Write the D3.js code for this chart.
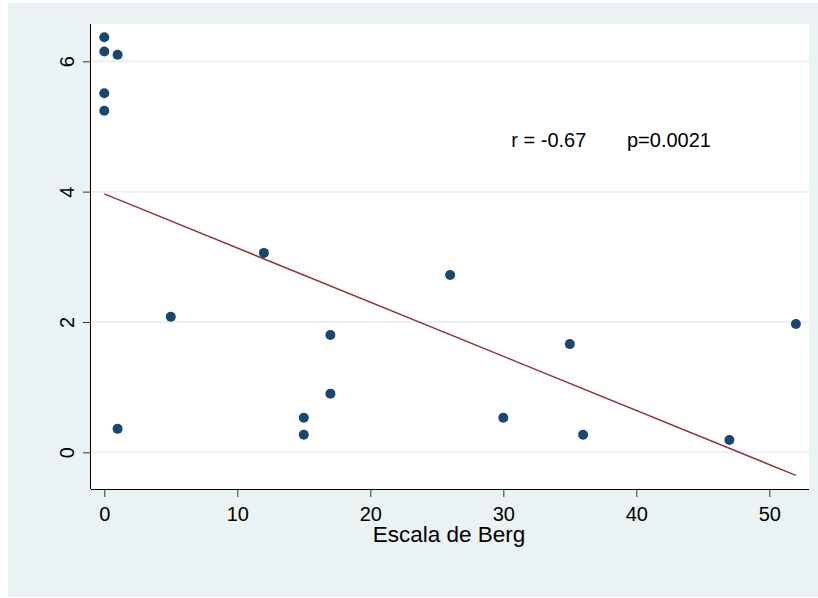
<!DOCTYPE html>
<html>
<head>
<meta charset="utf-8">
<script src="https://cdn.jsdelivr.net/npm/d3@7"></script>
<style>
  body { margin: 0; background: #fff; }
  svg { display: block; }
  text { font-family: "Liberation Sans", Arial, sans-serif; }
</style>
</head>
<body>
<div id="chart"></div>
<script>
var berg = [0, 0, 1, 0, 0, 5, 12, 26, 17, 17, 15, 15, 1, 30, 35, 36, 47, 52];
var score = [6.37, 6.15, 6.10, 5.51, 5.24, 2.08, 3.06, 2.72, 1.80, 0.90, 0.53, 0.27, 0.36, 0.53, 1.66, 0.27, 0.19, 1.97];
var xTicks = [0, 10, 20, 30, 40, 50];
var yTicks = [0, 2, 4, 6];

function init() {
    var w = 818;
    var h = 598;

    var left = 91, right = 809, top = 24, bottom = 489;

    // scales fitted to the picture's tick positions
    var x = d3.scaleLinear().domain([0, 50]).range([104.3, 769.3]);
    var y = d3.scaleLinear().domain([0, 6]).range([452.3, 61.3]);

    var svg = d3.select("#chart")
                .append("svg")
                .attr("width", w)
                .attr("height", h);

    svg.append("rect")
        .attr("x", 8).attr("y", 3)
        .attr("width", w - 8).attr("height", 594)
        .attr("fill", "#eaf2f3");

    svg.append("rect")
        .attr("x", left).attr("y", top)
        .attr("width", right - left).attr("height", bottom - top)
        .attr("fill", "#fff");

    // gridlines
    svg.append("g")
        .selectAll("line")
        .data(yTicks)
        .enter()
        .append("line")
        .attr("x1", left).attr("x2", right)
        .attr("y1", function(d) { return y(d); })
        .attr("y2", function(d) { return y(d); })
        .attr("stroke", "#eaf2f3")
        .attr("stroke-width", 2);

    // fit line (least squares)
    var mx = d3.mean(berg), my = d3.mean(score);
    var sxy = d3.sum(berg, function(d, i) { return (d - mx) * (score[i] - my); });
    var sxx = d3.sum(berg, function(d) { return (d - mx) * (d - mx); });
    var slope = sxy / sxx;
    var icpt = my - slope * mx;
    var xr = d3.extent(berg);

    svg.append("line")
        .attr("x1", x(xr[0])).attr("y1", y(icpt + slope * xr[0]))
        .attr("x2", x(xr[1])).attr("y2", y(icpt + slope * xr[1]))
        .attr("stroke", "#90353b")
        .attr("stroke-width", 1.5);

    // points
    svg.append("g")
        .selectAll("circle")
        .data(berg)
        .enter()
        .append("circle")
        .attr("cx", function(d) { return x(d); })
        .attr("cy", function(d, i) { return y(score[i]); })
        .attr("r", 5)
        .attr("fill", "#1a476f");

    // axes
    var xAxis = svg.append("g")
        .attr("transform", "translate(0," + bottom + ")")
        .call(d3.axisBottom(x).tickValues(xTicks).tickFormat(d3.format("d")).tickSize(8));
    xAxis.select(".domain").attr("d", "M" + left + ",0.5H" + right).attr("stroke", "#000");
    xAxis.selectAll(".tick line").attr("stroke", "#333");
    xAxis.selectAll(".tick text")
        .attr("font-size", 20)
        .attr("font-family", "Liberation Sans, Arial, sans-serif")
        .attr("fill", "#000")
        .attr("y", 32)
        .attr("dy", null);

    var yAxis = svg.append("g")
        .attr("transform", "translate(" + left + ",0)")
        .call(d3.axisLeft(y).tickValues(yTicks).tickFormat(d3.format("d")).tickSize(8));
    yAxis.select(".domain").attr("d", "M-0.5," + top + "V" + bottom).attr("stroke", "#000");
    yAxis.selectAll(".tick line").attr("stroke", "#333");
    yAxis.selectAll(".tick text")
        .attr("font-size", 20)
        .attr("font-family", "Liberation Sans, Arial, sans-serif")
        .attr("fill", "#000")
        .attr("text-anchor", "middle")
        .attr("x", null)
        .attr("dy", null)
        .attr("transform", "translate(-17,0) rotate(-90)");

    svg.append("text")
        .attr("x", 449).attr("y", 542)
        .attr("text-anchor", "middle")
        .attr("font-size", 22.5)
        .text("Escala de Berg");

    svg.append("text")
        .attr("x", x(30.6)).attr("y", y(4.68))
        .attr("font-size", 20)
        .text("r = -0.67");

    svg.append("text")
        .attr("x", x(39.3)).attr("y", y(4.68))
        .attr("font-size", 20)
        .text("p=0.0021");
}

window.onload = init;
</script>
</body>
</html>
